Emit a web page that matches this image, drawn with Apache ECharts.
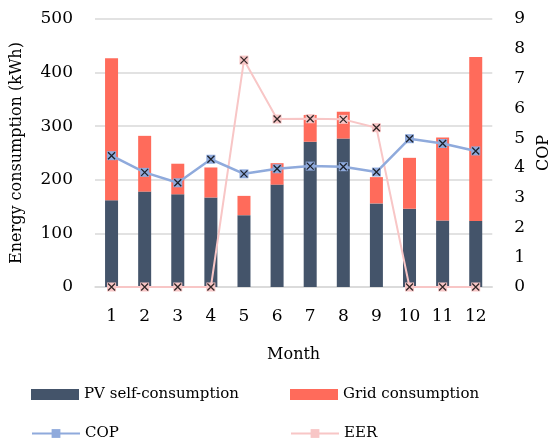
<!DOCTYPE html>
<html><head><meta charset="utf-8">
<script src="https://cdn.jsdelivr.net/npm/echarts@6/dist/echarts.min.js"></script>
<style>html,body{margin:0;padding:0;background:#fff}#c{width:560px;height:445px}</style>
</head><body><div id="c"></div>
<script>
var months = ['1','2','3','4','5','6','7','8','9','10','11','12'];
var pvSelf = [162, 178, 173, 167, 134, 191, 271, 277, 156, 146, 124, 123];
var gridCons = [265, 104, 57, 56, 36, 40, 50, 50, 49, 95, 155, 306];
var cop = [4.41, 3.85, 3.50, 4.29, 3.80, 3.97, 4.06, 4.04, 3.86, 4.98, 4.82, 4.57];
var eer = [0, 0, 0, 0, 7.62, 5.64, 5.65, 5.63, 5.35, 0, 0, 0];

var FONT = 'DejaVu Serif';
var xPath = 'path://M0,0 L10,10 M10,0 L0,10';
var chart = echarts.init(document.getElementById('c'));
function legendAt(name, left, top, icon) {
  var o = {data: [name], left: left, top: top, itemWidth: 48, itemHeight: 11, itemGap: 0,
    textStyle: {fontFamily: FONT, fontSize: 15, color: '#000', padding: [0, 0, 0, 0]}, padding: 0};
  if (icon) o.data = [{name: name, icon: icon}];
  return o;
}
chart.setOption({
  animation: false,
  textStyle: {fontFamily: FONT},
  legend: [
    legendAt('PV self-consumption', 31, 387, 'rect'),
    legendAt('Grid consumption', 290, 387, 'rect'),
    legendAt('COP', 31, 426),
    legendAt('EER', 290, 426)
  ],
  grid: {left: 95, right: 62, top: 19, bottom: 158},
  xAxis: {
    type: 'category', data: months, name: 'Month', nameLocation: 'middle', nameGap: 60,
    nameTextStyle: {fontFamily: FONT, fontSize: 16, color: '#000'},
    axisLine: {lineStyle: {color: '#D9D9D9', width: 1.5}}, axisTick: {show: false},
    axisLabel: {fontFamily: FONT, fontSize: 17, color: '#000', margin: 21}
  },
  yAxis: [{
    type: 'value', min: 0, max: 500, interval: 100,
    name: 'Energy consumption (kWh)', nameLocation: 'middle', nameGap: 70, nameRotate: 90,
    nameTextStyle: {fontFamily: FONT, fontSize: 16, color: '#000'},
    axisLine: {show: false}, axisTick: {show: false},
    axisLabel: {fontFamily: FONT, fontSize: 17, color: '#000', margin: 22},
    splitLine: {lineStyle: {color: '#D9D9D9', width: 1.5}}
  }, {
    type: 'value', min: 0, max: 9, interval: 1,
    name: 'COP', nameLocation: 'middle', nameGap: 42, nameRotate: 90,
    nameTextStyle: {fontFamily: FONT, fontSize: 16, color: '#000'},
    axisLine: {show: false}, axisTick: {show: false},
    axisLabel: {fontFamily: FONT, fontSize: 17, color: '#000', margin: 22},
    splitLine: {show: false}
  }],
  series: [
    {name: 'PV self-consumption', type: 'bar', stack: 'e', data: pvSelf, barWidth: 13,
      itemStyle: {color: '#44546A'}},
    {name: 'Grid consumption', type: 'bar', stack: 'e', data: gridCons, barWidth: 13,
      itemStyle: {color: '#FF6B5B'}},
    {name: 'COP', type: 'line', yAxisIndex: 1, data: cop, symbol: 'rect', symbolSize: 9,
      lineStyle: {color: '#8FAADC', width: 2.5}, itemStyle: {color: '#8FAADC'}, z: 5},
    {name: 'EER', type: 'line', yAxisIndex: 1, data: eer, symbol: 'rect', symbolSize: 9,
      lineStyle: {color: '#F8C6C6', width: 2}, itemStyle: {color: '#F8C6C6'}, z: 4},
    {name: 'copX', type: 'scatter', yAxisIndex: 1, data: cop, symbol: xPath, symbolSize: 7,
      itemStyle: {color: 'none', borderColor: '#000', borderWidth: 1.3}, z: 6, silent: true},
    {name: 'eerX', type: 'scatter', yAxisIndex: 1, data: eer, symbol: xPath, symbolSize: 7,
      itemStyle: {color: 'none', borderColor: '#000', borderWidth: 1.3}, z: 6, silent: true}
  ]
});
</script></body></html>
